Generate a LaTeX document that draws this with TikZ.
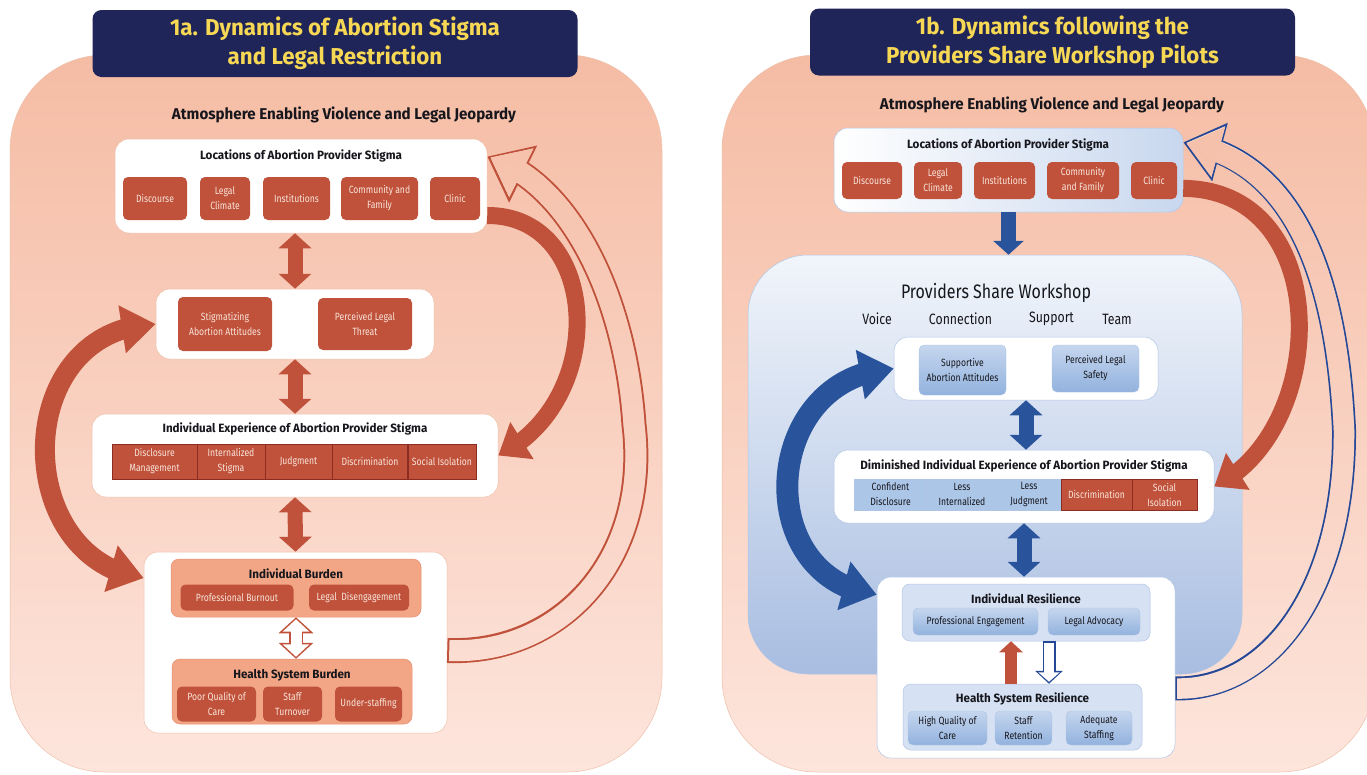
\documentclass[tikz,border=0pt]{standalone}
\usepackage{fontspec}
\setmainfont[FakeStretch=0.82]{Fira Sans}
\newfontfamily\headfont[FakeStretch=0.97]{Fira Sans}
\usetikzlibrary{arrows.meta,bending,fadings}
\definecolor{navy}{RGB}{31,36,89}
\definecolor{gold}{RGB}{246,216,84}
\definecolor{brick}{RGB}{192,82,59}
\definecolor{cream}{RGB}{248,228,218}
\definecolor{cellline}{RGB}{140,45,35}
\definecolor{peachtop}{RGB}{245,188,164}
\definecolor{peachbot}{RGB}{253,229,220}
\definecolor{peachedge}{RGB}{238,192,170}
\definecolor{salmon}{RGB}{242,166,134}
\definecolor{salmonedge}{RGB}{230,142,112}
\definecolor{arrowblue}{RGB}{41,84,156}
\definecolor{lineblue}{RGB}{36,72,150}
\definecolor{skytop}{RGB}{241,245,251}
\definecolor{skybot}{RGB}{168,189,225}
\definecolor{glassblue}{RGB}{200,215,238}
\definecolor{paletop}{RGB}{197,214,238}
\definecolor{palebot}{RGB}{146,178,222}
\definecolor{paleblue}{RGB}{214,226,243}
\definecolor{paleedge}{RGB}{176,197,229}
\definecolor{cellblue}{RGB}{172,198,232}
\definecolor{ink}{RGB}{22,22,28}
\tikzset{
  panel/.style={rounded corners=95pt, top color=peachtop, bottom color=peachbot,
    draw=peachedge, line width=0.5pt},
  headbox/.style={fill=navy, rounded corners=9pt, text=gold, align=center,
    font=\headfont\fontsize{23}{29}\selectfont\bfseries, minimum width=485pt, minimum height=67pt},
  atmo/.style={font=\headfont\fontsize{15.6}{18}\selectfont\bfseries, text=ink},
  card/.style={fill=white, draw=peachedge, line width=0.5pt, rounded corners=14pt},
  glasscard/.style={card, left color=white, right color=glassblue, draw=paleedge},
  workshop/.style={rounded corners=60pt, top color=skytop, bottom color=skybot,
    draw=paleedge, line width=0.5pt},
  hdr/.style={font=\headfont\fontsize{12}{14}\selectfont\bfseries, text=ink},
  sz/.style 2 args={minimum width=#1pt, minimum height=#2pt, inner sep=1pt},
  redbox/.style={fill=brick, rounded corners=5pt, text=cream, align=center,
    font=\fontsize{10.5}{15}\selectfont},
  bluebox/.style={top color=paletop, bottom color=palebot, draw=paleedge,
    rounded corners=5pt, text=ink, align=center, font=\fontsize{10.5}{15}\selectfont},
  redcell/.style={fill=brick, draw=cellline, line width=0.6pt, text=cream,
    align=center, font=\fontsize{10.5}{15}\selectfont},
  bluecell/.style={fill=cellblue, draw=paleedge, line width=0.6pt, text=ink,
    align=center, font=\fontsize{10.5}{15}\selectfont},
  tray/.style={fill=salmon, draw=salmonedge, line width=0.5pt, rounded corners=8pt},
  bluetray/.style={fill=paleblue, draw=paleedge, line width=0.5pt, rounded corners=8pt},
  fatred/.style={draw=brick, line width=15pt,
    {Triangle[width=32pt,length=15pt]}-{Triangle[width=32pt,length=15pt]}},
  fatblue/.style={draw=arrowblue, line width=15pt,
    {Triangle[width=32pt,length=15pt]}-{Triangle[width=32pt,length=15pt]}},
  ws/.style={font=\fontsize{15}{18}\selectfont, text=ink}
}
\begin{document}
\begin{tikzpicture}[x=1pt,y=-1pt]
\useasboundingbox (0,0) rectangle (1367,774);
\clip (0,0) rectangle (1367,774);

% left panel
\node[panel, sz={652}{717}] (panL) at (336,413.5) {};
\node[headbox] (headL) at (335,43.5) {1a. Dynamics of Abortion Stigma\\and Legal Restriction};
\node[atmo] (atmoL) at (344,115) {Atmosphere Enabling Violence and Legal Jeopardy};

\node[card, sz={372}{94}] (locL) at (301,186) {};
\node[hdr] (locLt) at (301,156) {Locations of Abortion Provider Stigma};
\node[redbox, sz={64}{43}] (discL) at (155,198.5) {Discourse};
\node[redbox, sz={50}{43}] (climL) at (225,198.5) {Legal\\Climate};
\node[redbox, sz={67}{43}] (instL) at (296.5,198.5) {Institutions};
\node[redbox, sz={77}{43}] (commL) at (379.5,198.5) {Community and\\Family};
\node[redbox, sz={50}{43}] (clinL) at (455,198.5) {Clinic};

\node[card, sz={278}{70}] (attL) at (295,324) {};
\node[redbox, sz={94}{54}] (stigL) at (225,324) {Stigmatizing\\Abortion Attitudes};
\node[redbox, sz={94}{52}] (thrL) at (365,324) {Perceived Legal\\Threat};

\node[card, sz={406}{83}] (expL) at (295,455.5) {};
\node[hdr] (expLt) at (295,429) {Individual Experience of Abortion Provider Stigma};
\node[redcell, sz={85}{35}] (dmL) at (154.5,461.5) {Disclosure\\Management};
\node[redcell, sz={68}{35}] (isL) at (231,461.5) {Internalized\\Stigma};
\node[redcell, sz={67}{35}] (jdL) at (298.5,461.5) {Judgment};
\node[redcell, sz={75}{35}] (dcL) at (370,461.5) {Discrimination};
\node[redcell, sz={68}{35}] (siL) at (442,461.5) {Social Isolation};

\node[card, sz={303}{181}] (burL) at (295.5,642.5) {};
\node[tray, sz={250}{58}] (indBL) at (296,588) {};
\node[hdr] (indBLt) at (296,574) {Individual Burden};
\node[redbox, sz={113}{26}] (pbL) at (237,597.5) {Professional Burnout};
\node[redbox, sz={100}{26}] (ldL) at (359,597.5) {Legal~ Disengagement};
\node[tray, sz={240}{65}] (hsBL) at (292,691.5) {};
\node[hdr] (hsBLt) at (292,675) {Health System Burden};
\node[redbox, sz={79}{35}] (pqL) at (216.5,704) {Poor Quality of\\Care};
\node[redbox, sz={59}{35}] (stL) at (292.5,704) {Staff\\Turnover};
\node[redbox, sz={67}{35}] (usL) at (368.5,704) {Under-staffing};

\draw[fatred] (attL.north |- locL.south) -- (attL.north);
\draw[fatred] (attL.south) -- (expL.north);
\draw[fatred] (expL.south) -- (burL.north);
\draw[brick, line width=14pt, {Triangle[width=34pt,length=16pt]}-{Triangle[width=34pt,length=16pt]}]
  (indBL.south) -- (indBL.south |- hsBL.north);
\draw[white, line width=11pt, shorten <=2pt, shorten >=2pt,
  {Triangle[width=26pt,length=12.4pt]}-{Triangle[width=26pt,length=12.4pt]}]
  (indBL.south) -- (indBL.south |- hsBL.north);

\draw[brick, line width=20pt, {Triangle[width=46pt,length=34pt]}-{Triangle[width=46pt,length=34pt]}]
  (attL.west) .. controls (10,328) and (10,560) .. (burL.157);
\draw[brick, line width=17pt, -{Triangle[width=42pt,length=28pt]}]
  (locL.-9) .. controls (600,215) and (610,400) .. (expL.east);
\draw[brick, line width=25pt, -{Triangle[width=61pt,length=40pt]}]
  (burL.-3) .. controls (560,655) and (650,560) .. (634,425)
  .. controls (625,290) and (566,180) .. (locL.9);
\draw[peachtop!16!peachbot, line width=21pt, shorten <=2pt, shorten >=3.3pt,
  -{Triangle[width=52pt,length=34.5pt]}]
  (burL.-3) .. controls (560,655) and (650,560) .. (634,425)
  .. controls (625,290) and (566,180) .. (locL.9);
\draw[peachtop!86!peachbot, path fading=south, line width=21pt, shorten <=2pt, shorten >=3.3pt,
  -{Triangle[width=52pt,length=34.5pt]}]
  (burL.-3) .. controls (560,655) and (650,560) .. (634,425)
  .. controls (625,290) and (566,180) .. (locL.9);

% right panel
\node[panel, sz={653}{717}] (panR) at (1048.5,413.5) {};
\node[headbox] (headR) at (1052.5,42) {1b. Dynamics following the\\Providers Share Workshop Pilots};
\node[atmo] (atmoR) at (1052,105) {Atmosphere Enabling Violence and Legal Jeopardy};

\node[glasscard, sz={349}{84}] (locR) at (1008.5,170) {};
\node[hdr] (locRt) at (1008,145) {Locations of Abortion Provider Stigma};
\node[redbox, sz={60}{37}] (discR) at (872,180.5) {Discourse};
\node[redbox, sz={48}{37}] (climR) at (938,180.5) {Legal\\Climate};
\node[redbox, sz={61}{37}] (instR) at (1004.5,180.5) {Institutions};
\node[redbox, sz={72}{37}] (commR) at (1083,180.5) {Community\\and Family};
\node[redbox, sz={46}{37}] (clinR) at (1154,180.5) {Clinic};

\node[workshop, sz={494}{419}] (wsR) at (995,464.5) {};
\node[font=\fontsize{19.5}{24}\selectfont, text=ink] (wsRt) at (996,293) {Providers Share Workshop};
\node[ws] (voice) at (877,319) {Voice};
\node[ws] (conn) at (960.5,319) {Connection};
\node[ws] (supp) at (1051.5,319) {Support};
\node[ws] (team) at (1117,319) {Team};

\node[card, draw=paleedge, sz={264}{63}] (attR) at (1026,368.5) {};
\node[bluebox, sz={87}{50}] (suppR) at (962.5,370) {Supportive\\Abortion Attitudes};
\node[bluebox, sz={87}{47}] (safeR) at (1095.5,368.5) {Perceived Legal\\Safety};

\node[card, draw=paleedge, sz={380}{73}] (dimR) at (1024,486.5) {};
\node[hdr] (dimRt) at (1024,466) {Diminished Individual Experience of Abortion Provider Stigma};
\node[bluecell, sz={73}{31}] (cdR) at (890.5,494.5) {Confident\\Disclosure};
\node[bluecell, sz={70}{31}] (liR) at (962,494.5) {Less\\Internalized};
\node[bluecell, sz={64}{31}] (ljR) at (1029,494.5) {Less\\Judgment};
\node[redcell, sz={71}{31}] (dcR) at (1096.5,494.5) {Discrimination};
\node[redcell, sz={65}{31}] (siR) at (1164.5,494.5) {Social\\Isolation};

\node[card, draw=paleedge, sz={298}{181}] (resR) at (1026,667.5) {};
\node[bluetray, sz={248}{57}] (indR) at (1026,612.5) {};
\node[hdr] (indRt) at (1026,599) {Individual Resilience};
\node[bluebox, sz={125}{27}] (peR) at (975.5,621.5) {Professional Engagement};
\node[bluebox, sz={92}{27}] (laR) at (1094,621.5) {Legal Advocacy};
\node[bluetray, sz={239}{66}] (hsR) at (1022.5,717) {};
\node[hdr] (hsRt) at (1022.5,699) {Health System Resilience};
\node[bluebox, sz={79}{34}] (hqR) at (947.5,728) {High Quality of\\Care};
\node[bluebox, sz={57}{34}] (srR) at (1023.5,728) {Staff\\Retention};
\node[bluebox, sz={66}{34}] (asR) at (1099,728) {Adequate\\Staffing};

\draw[arrowblue, line width=15pt, -{Triangle[width=30pt,length=14pt]}]
  (locR.south) -- (locR.south |- wsR.north);
\draw[fatblue] (attR.south) -- (attR.south |- dimR.north);
\draw[fatblue] (dimR.south) -- (dimR.south |- resR.north);
\draw[brick, line width=12pt, -{Triangle[width=23pt,length=11pt]}]
  ([xshift=-11.5pt]hsR.north) -- ([xshift=-11.5pt]hsR.north |- indR.south);
\draw[lineblue, line width=13pt, -{Triangle[width=27pt,length=13pt]}]
  ([xshift=23pt]indR.south) -- ([xshift=23pt]indR.south |- hsR.north);
\draw[white, line width=10.5pt, shorten <=1.5pt, shorten >=2pt, -{Triangle[width=21pt,length=9.5pt]}]
  ([xshift=23pt]indR.south) -- ([xshift=23pt]indR.south |- hsR.north);

\draw[arrowblue, line width=22pt, {Triangle[width=48pt,length=34pt]}-{Triangle[width=48pt,length=34pt]}]
  (attR.west) .. controls (760,375) and (750,580) .. (resR.154);
\draw[brick, line width=17pt, -{Triangle[width=42pt,length=28pt]}]
  (locR.-6) .. controls (1335,190) and (1330,430) .. (dimR.east);
\draw[lineblue, line width=24pt, -{Triangle[width=58pt,length=38pt]}]
  (resR.-8.6) .. controls (1270,690) and (1345,590) .. (1344,430)
  .. controls (1338,300) and (1305,160) .. (locR.9);
\draw[peachtop!11!peachbot, line width=20.5pt, shorten <=1.8pt, shorten >=3.2pt,
  -{Triangle[width=50pt,length=33pt]}]
  (resR.-8.6) .. controls (1270,690) and (1345,590) .. (1344,430)
  .. controls (1338,300) and (1305,160) .. (locR.9);
\draw[peachtop!88!peachbot, path fading=south, line width=20.5pt, shorten <=1.8pt, shorten >=3.2pt,
  -{Triangle[width=50pt,length=33pt]}]
  (resR.-8.6) .. controls (1270,690) and (1345,590) .. (1344,430)
  .. controls (1338,300) and (1305,160) .. (locR.9);
\end{tikzpicture}
\end{document}
